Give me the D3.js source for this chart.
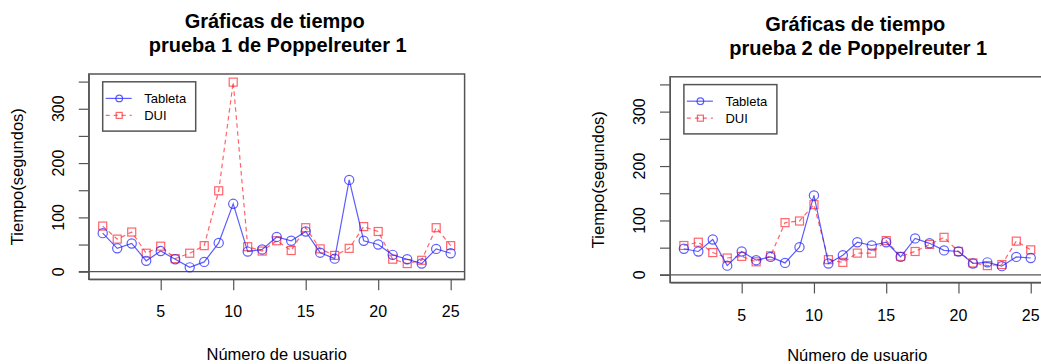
<!DOCTYPE html>
<html><head><meta charset="utf-8">
<script src="https://cdn.jsdelivr.net/npm/d3@7"></script>
<style>body{margin:0;background:#fff}svg{display:block}text{font-family:"Liberation Sans",Arial,Helvetica,sans-serif;fill:#000}</style>
</head><body>
<svg id="c" width="1041" height="364"></svg>
<script>
const usuarios = d3.range(1, 26);
const tableta1 = [71,43,52,20,38,23,8,18,53,125,37,41,64,57,74,35,24,169,57,50,31,23,15,42,34];
const dui1     = [84,60,73,34,47,24,34,48,149,349,46,38,57,39,81,42,30,43,83,74,23,15,21,81,48];
const tableta2 = [48,43,65,17,43,27,33,22,51,146,21,36,60,54,60,33,67,58,45,43,21,23,16,33,31];
const dui2     = [54,60,41,31,34,24,35,96,99,129,28,23,40,40,63,34,43,56,69,43,22,17,19,62,46];
const titulos  = [["Gráficas de tiempo", "prueba 1 de Poppelreuter 1"], ["Gráficas de tiempo", "prueba 2 de Poppelreuter 1"]];
const xTicks = [5,10,15,20,25];
const yTicks = [0,50,100,150,200,250,300,350];
const yLabels = [0,100,200,300];
const serieNombres = ["Tableta","DUI"];

const svg = d3.select("#c");
const axisCol = "#555";
const blue = "rgba(30,30,255,0.72)";
const red = "rgba(255,40,50,0.72)";

const panels = [
  {left:88.8, top:74, w:375.8, h:205.3, t:tableta1, d:dui1, title:titulos[0], tdy:0, xlab:359.5},
  {left:670, top:76.8, w:374.6, h:205.7, t:tableta2, d:dui2, title:titulos[1], tdy:3, xlab:360.5}
];

panels.forEach(p => {
  const g = svg.append("g");
  const x = d3.scaleLinear().domain([0.04, 25.96]).range([p.left, p.left + p.w]);
  const y = d3.scaleLinear().domain([-14, 364]).range([p.top + p.h, p.top]);
  const bottom = p.top + p.h;

  g.append("line").attr("x1", p.left - 10).attr("x2", p.left + p.w)
    .attr("y1", y(0)).attr("y2", y(0)).attr("stroke", axisCol).attr("stroke-width", 1.2);

  const ax = g.append("g").attr("transform", `translate(0,${bottom})`)
    .call(d3.axisBottom(x).tickValues(xTicks).tickSize(11).tickSizeOuter(0).tickFormat(""));
  const ay = g.append("g").attr("transform", `translate(${p.left},0)`)
    .call(d3.axisLeft(y).tickValues(yTicks).tickSize(10).tickSizeOuter(0).tickFormat(""));
  [ax, ay].forEach(a => { a.selectAll("line").attr("stroke", axisCol).attr("stroke-width", 1.2); a.select(".domain").attr("stroke", axisCol); });

  g.append("rect").attr("x", p.left).attr("y", p.top).attr("width", p.w).attr("height", p.h)
    .attr("fill", "none").attr("stroke", axisCol).attr("stroke-width", 1.5);

  g.selectAll(".xl").data(xTicks).join("text").attr("x", d => x(d)).attr("y", bottom + 38)
    .attr("text-anchor", "middle").attr("font-size", 16).text(d => d);
  g.selectAll(".yl").data(yLabels).join("text")
    .attr("transform", d => `translate(${p.left - 25},${y(d)}) rotate(-90)`)
    .attr("text-anchor", "middle").attr("font-size", 16).text(d => d);

  g.append("text").attr("x", p.left + p.w / 2).attr("y", p.xlab)
    .attr("text-anchor", "middle").attr("font-size", 16.5).text("Número de usuario");
  g.append("text").attr("transform", `translate(${p.left - 66},${p.top + p.h / 2}) rotate(-90)`)
    .attr("text-anchor", "middle").attr("font-size", 16.5).text("Tiempo(segundos)");

  g.append("text").attr("x", p.left + p.w / 2 - 2).attr("y", 28 + p.tdy)
    .attr("text-anchor", "middle").attr("font-size", 20).attr("font-weight", "bold").text(p.title[0]);
  g.append("text").attr("x", p.left + p.w / 2 + 1).attr("y", 52 + p.tdy)
    .attr("text-anchor", "middle").attr("font-size", 20).attr("font-weight", "bold").text(p.title[1]);

  const line = d3.line().x((d, i) => x(usuarios[i])).y(d => y(d));
  g.append("path").attr("d", line(p.d)).attr("fill", "none").attr("stroke", red)
    .attr("stroke-width", 1.2).attr("stroke-dasharray", "4.5,3.5");
  g.selectAll(".sq").data(p.d).join("rect")
    .attr("x", (d, i) => x(usuarios[i]) - 4).attr("y", d => y(d) - 4)
    .attr("width", 8).attr("height", 8).attr("fill", "none").attr("stroke", red).attr("stroke-width", 1.2);
  g.append("path").attr("d", line(p.t)).attr("fill", "none").attr("stroke", blue).attr("stroke-width", 1.2);
  g.selectAll(".ci").data(p.t).join("circle")
    .attr("cx", (d, i) => x(usuarios[i])).attr("cy", d => y(d)).attr("r", 4.6)
    .attr("fill", "none").attr("stroke", blue).attr("stroke-width", 1.2);

  const lx = p.left + 13.9, ly = p.top + 7.8;
  g.append("rect").attr("x", lx).attr("y", ly).attr("width", 93).attr("height", 49.3)
    .attr("fill", "#fff").attr("stroke", axisCol).attr("stroke-width", 1.5);
  const rows = [{n: serieNombres[0], c: blue, dash: null, dy: 16.6, sym: "c"}, {n: serieNombres[1], c: red, dash: "4,4", dy: 33.6, sym: "s"}];
  rows.forEach(r => {
    const yy = ly + r.dy;
    g.append("line").attr("x1", lx + 3).attr("x2", lx + 29).attr("y1", yy).attr("y2", yy)
      .attr("stroke", r.c).attr("stroke-width", 1.2).attr("stroke-dasharray", r.dash);
    if (r.sym === "c") g.append("circle").attr("cx", lx + 16.5).attr("cy", yy).attr("r", 3.3)
      .attr("fill", "none").attr("stroke", r.c).attr("stroke-width", 1.2);
    else g.append("rect").attr("x", lx + 13.5).attr("y", yy - 3).attr("width", 6).attr("height", 6)
      .attr("fill", "none").attr("stroke", r.c).attr("stroke-width", 1.2);
    g.append("text").attr("x", lx + 41.5).attr("y", yy + 4.7).attr("font-size", 13).text(r.n);
  });
});
</script>
</body></html>
